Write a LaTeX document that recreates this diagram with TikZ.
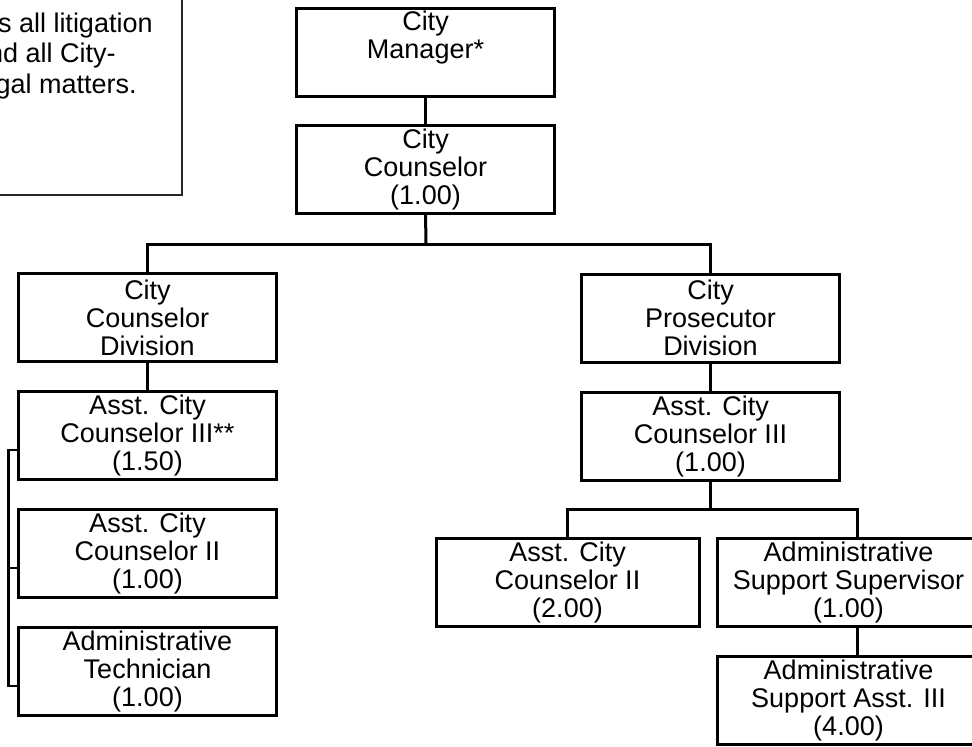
\documentclass[tikz,border=0pt]{standalone}
\usepackage{fontspec}
\setmainfont{Liberation Sans}
\usetikzlibrary{calc,positioning}

\begin{document}
\begin{tikzpicture}[x=0.5pt,y=-0.5pt,
    post/.style={draw,line width=1.5pt,inner sep=0pt,outer sep=0pt,
      minimum width=129pt,minimum height=44pt,align=center,
      font=\fontsize{13.5}{14}\selectfont},
    widepost/.style={post,minimum width=131.5pt},
    link/.style={line width=1.5pt},
    brace/.style={line width=1.1pt},
    note/.style={draw=black!85,line width=0.6pt}]
  \useasboundingbox (0,0) rectangle (972,746);
  % note, cut off at the left edge
  \draw[note] (-20,-20) rectangle (182,195);
  \node[anchor=base east,inner sep=0pt,font=\fontsize{13.5}{14}\selectfont] (note1) at (153,32) {s all litigation};
  \node[anchor=base east,inner sep=0pt,font=\fontsize{13.5}{14}\selectfont] (note2) at (116,62) {nd all City-};
  \node[anchor=base east,inner sep=0pt,font=\fontsize{13.5}{14}\selectfont] (note3) at (137,93) {gal matters.};
  % top of the chart
  \node[post] (mgr) at (425.5,52) {City\\Manager*\\\phantom{(1.00)}};
  \node[post] (cou) at (425.5,169.5) {City\\Counselor\\(1.00)};
  \coordinate (bus) at (426,244);
  % divisions
  \node[post] (ccdiv) at (147.5,317.5) {City\\Counselor\\Division};
  \node[post] (cpdiv) at (710.5,318) {City\\Prosecutor\\Division};
  % city counselor division
  \node[post] (acc3) at (147.5,435) {Asst. City\\Counselor III**\\(1.50)};
  \node[post] (acc2) at (147.5,553) {Asst. City\\Counselor II\\(1.00)};
  \node[post] (atech) at (147.5,671) {Administrative\\Technician\\(1.00)};
  % city prosecutor division
  \node[post] (acc3r) at (710.5,436) {Asst. City\\Counselor III\\(1.00)};
  \coordinate (bus2) at (710.5,509);
  \node[widepost] (acc2r) at (567.5,582.5) {Asst. City\\Counselor II\\(2.00)};
  \node[widepost] (supv) at (848.5,582.5) {Administrative\\Support Supervisor\\(1.00)};
  \node[widepost] (asa3) at (848.5,700) {Administrative\\Support Asst. III\\(4.00)};
  % connectors
  \draw[link] (mgr.south) -- (cou.north);
  \draw[link] (cou.south) -- (bus);
  \draw[link] (ccdiv.north) |- (bus) -| (cpdiv.north);
  \draw[link] (ccdiv.south) -- (acc3.north);
  \draw[link] (cpdiv.south) -- (acc3r.north);
  \draw[link] (acc3r.south) -- (bus2);
  \draw[link] (acc2r.north) |- (bus2) -| ([xshift=4.25pt]supv.north);
  \draw[link] ([xshift=4.25pt]supv.south) -- ([xshift=4.25pt]asa3.north);
  \draw[brace] ([yshift=-7.5pt]acc3.west) -- ++(-5pt,0) |- ([yshift=-7.5pt]atech.west);
  \draw[brace] ([yshift=-7.5pt]acc2.west) -- ++(-5pt,0);
\end{tikzpicture}
\end{document}
